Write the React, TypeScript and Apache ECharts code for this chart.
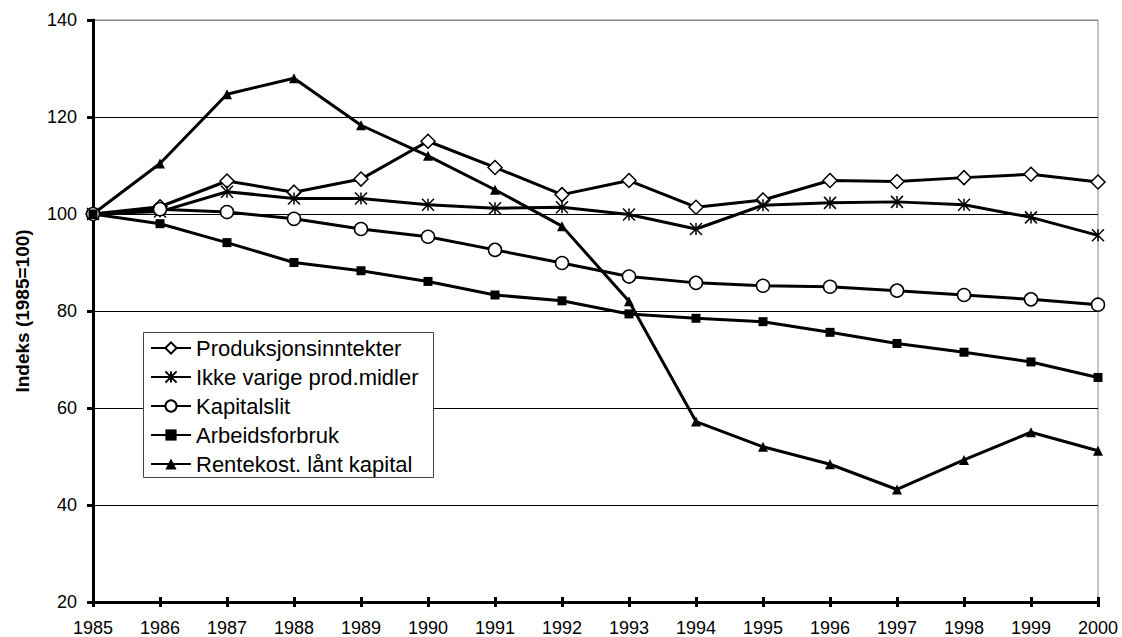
import React, { useEffect, useRef } from "react";
import * as echarts from "echarts";

const years = ["1985","1986","1987","1988","1989","1990","1991","1992","1993","1994","1995","1996","1997","1998","1999","2000"];
const produksjon = [100, 101.5, 106.8, 104.5, 107.2, 115.0, 109.6, 104.0, 106.9, 101.4, 102.9, 106.9, 106.7, 107.5, 108.2, 106.6];
const ikkeVarige = [100, 100.5, 104.6, 103.2, 103.2, 101.9, 101.2, 101.4, 99.9, 96.9, 101.8, 102.3, 102.5, 101.9, 99.3, 95.6];
const kapitalslit = [100, 101.0, 100.4, 99.0, 96.9, 95.3, 92.6, 89.9, 87.1, 85.8, 85.2, 85.0, 84.2, 83.3, 82.4, 81.3];
const arbeid = [100, 98.0, 94.1, 90.0, 88.3, 86.1, 83.3, 82.1, 79.4, 78.5, 77.8, 75.6, 73.3, 71.5, 69.5, 66.3];
const rente = [100, 110.4, 124.7, 128.0, 118.3, 112.0, 105.0, 97.5, 82.0, 57.2, 52.0, 48.4, 43.2, 49.3, 55.0, 51.2];
const seriesNames = ["Produksjonsinntekter", "Ikke varige prod.midler", "Kapitalslit", "Arbeidsforbruk", "Rentekost. lånt kapital"];

const FONT = "'Liberation Sans', Arial, sans-serif";
const STAR = "path://M0,0L10,10M10,0L0,10M5,0L5,10";

export default function App() {
  const ref = useRef<HTMLDivElement>(null);
  useEffect(() => {
    const chart = echarts.init(ref.current!, null, { renderer: "svg" });
    const lineStyle = { color: "#000", width: 3 };
    const mk = (name: string, data: number[], symbol: string, size: number, filled: boolean) => ({
      name,
      type: "line",
      data,
      symbol,
      symbolSize: size,
      showSymbol: true,
      lineStyle,
      itemStyle: filled
        ? { color: "#000", borderColor: "#000", borderWidth: 0 }
        : { color: symbol === STAR ? "transparent" : "#fff", borderColor: "#000", borderWidth: 1.5 },
      emphasis: { disabled: true },
    });
    chart.setOption({
      animation: false,
      backgroundColor: "#fff",
      textStyle: { fontFamily: FONT },
      grid: { left: 93, right: 24, top: 20, bottom: 34, show: true, borderColor: "#888", borderWidth: 1, backgroundColor: "transparent" },
      graphic: {
        elements: [
          {
            type: "rect",
            z: 20,
            shape: { x: 143.5, y: 332.5, width: 290, height: 145 },
            style: { fill: "#fff", stroke: "#444", lineWidth: 1 },
          },
        ],
      },
      legend: {
        orient: "vertical",
        left: 150,
        top: 337,
        padding: 0,
        itemWidth: 40,
        itemHeight: 14,
        itemGap: 7,
        textStyle: { fontFamily: FONT, fontSize: 22, color: "#000" },
        data: seriesNames,
        z: 30,
      },
      xAxis: [
        {
          type: "category",
          data: years,
          boundaryGap: false,
          axisLine: { lineStyle: { color: "#000", width: 3 } },
          axisTick: { show: true, length: 5, lineStyle: { color: "#000", width: 3 } },
          axisLabel: { color: "#000", fontSize: 18, fontFamily: FONT, margin: 17 },
          splitLine: { show: false },
        },
        {
          type: "category",
          data: years,
          boundaryGap: false,
          position: "bottom",
          axisLine: { show: false },
          axisTick: { show: true, inside: true, length: 5, lineStyle: { color: "#000", width: 3 } },
          axisLabel: { show: false },
          splitLine: { show: false },
        },
      ],
      yAxis: {
        type: "value",
        min: 20,
        max: 140,
        interval: 20,
        name: "Indeks (1985=100)",
        nameLocation: "middle",
        nameGap: 61,
        nameRotate: 90,
        nameTextStyle: { color: "#000", fontSize: 19, fontWeight: "bold", fontFamily: FONT },
        axisLine: { show: true, lineStyle: { color: "#000", width: 3 } },
        axisTick: { show: true, length: 6, lineStyle: { color: "#000", width: 3 } },
        axisLabel: { color: "#000", fontSize: 18, fontFamily: FONT, margin: 16 },
        splitLine: { show: true, lineStyle: { color: ["#000", "#000", "#000", "#000", "#000", "#000", "#888"], width: 1 } },
      },
      series: [
        mk(seriesNames[0], produksjon, "diamond", 14, false),
        mk(seriesNames[1], ikkeVarige, STAR, 12, false),
        mk(seriesNames[2], kapitalslit, "circle", 13, false),
        mk(seriesNames[3], arbeid, "rect", 9, true),
        mk(seriesNames[4], rente, "triangle", 10, true),
      ],
    });
    return () => chart.dispose();
  }, []);
  return <div ref={ref} style={{ position: "absolute", left: 0, top: 0, width: 1122, height: 637 }} />;
}
